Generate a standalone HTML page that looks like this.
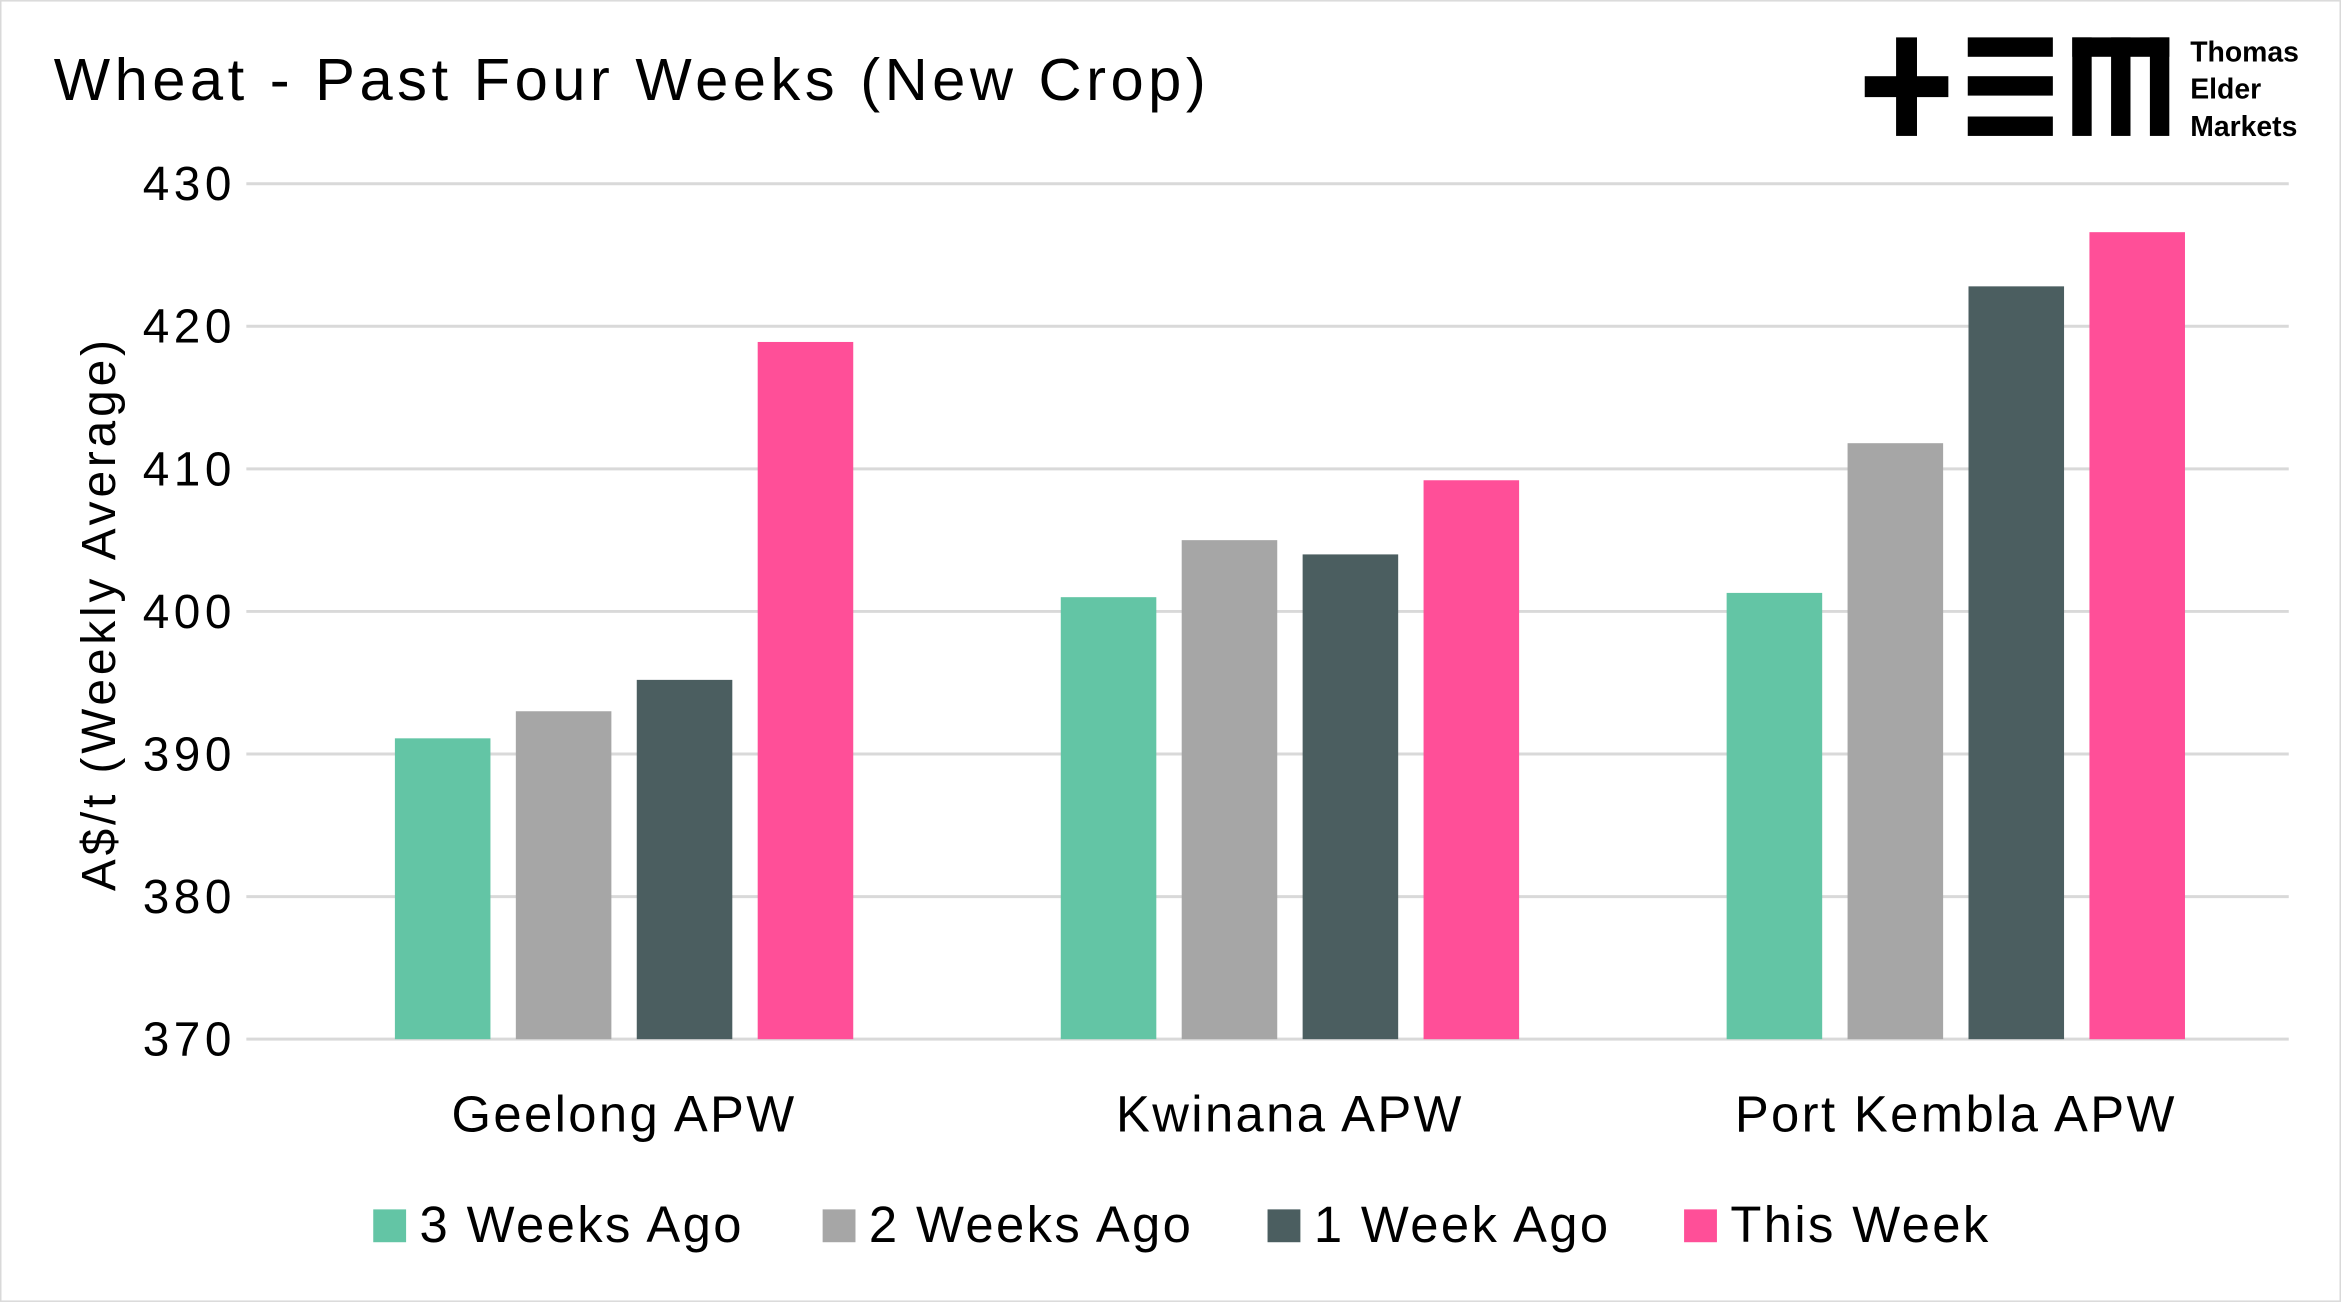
<!DOCTYPE html>
<html><head><meta charset="utf-8"><style>
html,body{margin:0;padding:0;background:#fff}
svg{display:block}
text{font-family:"Liberation Sans",sans-serif;fill:#000}
</style></head><body>
<svg width="2341" height="1302" viewBox="0 0 1568 872" xmlns="http://www.w3.org/2000/svg">
<rect x="0.5" y="0.5" width="1567" height="871" fill="#fff" stroke="#d9d9d9"/>
<text x="36" y="67" font-size="40" letter-spacing="3">Wheat - Past Four Weeks (New Crop)</text>
<g fill="#000">
<rect x="1270" y="25" width="14" height="66"/><rect x="1249" y="51" width="56" height="14"/>
<rect x="1318" y="25" width="57" height="13"/><rect x="1318" y="51" width="57" height="13"/><rect x="1318" y="78" width="57" height="13"/>
<rect x="1388" y="25" width="65" height="13"/><rect x="1388" y="25" width="13" height="66"/><rect x="1414" y="25" width="13" height="66"/><rect x="1440" y="25" width="13" height="66"/>
<text x="1467" y="41" font-size="19" font-weight="bold">Thomas</text>
<text x="1467" y="66" font-size="19" font-weight="bold">Elder</text>
<text x="1467" y="91" font-size="19" font-weight="bold">Markets</text>
</g>
<g id="grid"></g><g id="bars"></g><g id="labels"></g>
<text transform="translate(77,411) rotate(-90)" text-anchor="middle" font-size="32" letter-spacing="2.6">A$/t (Weekly Average)</text>
<g id="legend"></g>
</svg>
<script>
const categories=["Geelong APW","Kwinana APW","Port Kembla APW"];
const seriesNames=["3 Weeks Ago","2 Weeks Ago","1 Week Ago","This Week"];
const seriesColors=["#63c5a5","#a6a6a6","#4b5e60","#ff4f98"];
const s3w=[391.1,401.0,401.3];
const s2w=[393.0,405.0,411.8];
const s1w=[395.2,404.0,422.8];
const sThis=[418.9,409.2,426.6];
const yTicks=[370,380,390,400,410,420,430];
const series=[s3w,s2w,s1w,sThis];
const NS="http://www.w3.org/2000/svg";
const y0=696,y1=123,vMin=370,vMax=430,xL=165,xR=1533;
const yScale=v=>y0-(v-vMin)/(vMax-vMin)*(y0-y1);
const gw=446;
const xCenter=i=>418+gw*i;
function mk(tag,attrs,parent){const e=document.createElementNS(NS,tag);for(const k in attrs)e.setAttribute(k,attrs[k]);parent.appendChild(e);return e;}
const grid=document.getElementById('grid'),bars=document.getElementById('bars'),labels=document.getElementById('labels'),legend=document.getElementById('legend');
yTicks.forEach(t=>{
 const l=mk('line',{x1:xL,x2:xR,y1:yScale(t),y2:yScale(t),stroke:'#d9d9d9','stroke-width':2},grid);
 
 
 const tx=mk('text',{x:158,y:yScale(t)+11,'text-anchor':'end','font-size':32,'letter-spacing':3},labels);
 tx.textContent=t;
 
 
});
const bw=64,step=81;
categories.forEach((c,i)=>{
 series.forEach((s,j)=>{
  const cx=xCenter(i)+(j-1.5)*step;
  const r=mk('rect',{x:cx-bw/2,y:yScale(s[i]),width:bw,height:y0-yScale(s[i]),fill:seriesColors[j]},bars);
  
  
 });
 const t=mk('text',{x:xCenter(i),y:758,'text-anchor':'middle','font-size':34,'letter-spacing':1.6},labels);
 t.textContent=c;
 
 
});
const legX=[250,551,849,1128];
seriesNames.forEach((n,j)=>{
 const g=mk('g',{},legend);
 
 
 mk('rect',{x:legX[j],y:810,width:22,height:22,fill:seriesColors[j]},g);
 const t=mk('text',{x:legX[j]+31,y:832,'font-size':34,'letter-spacing':1.6},g);
 t.textContent=n;
});
</script>
</body></html>
